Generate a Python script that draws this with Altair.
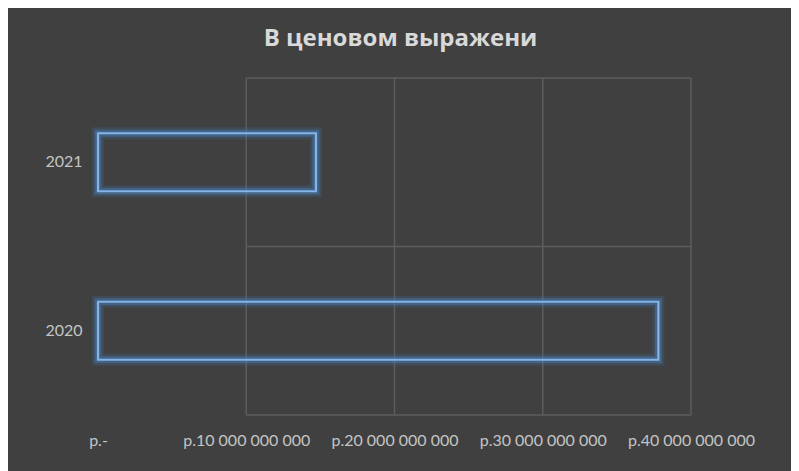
import altair as alt
import pandas as pd

# Data
years = ["2021", "2020"]
values = [14.7e9, 37.8e9]
grid_values = [1e10, 2e10, 3e10, 4e10]
tick_values = [0, 1e10, 2e10, 3e10, 4e10]
tick_labels = ["р.-", "р.10 000 000 000", "р.20 000 000 000", "р.30 000 000 000", "р.40 000 000 000"]
band_edges = [0, 1, 2]

bars_df = pd.DataFrame({"year": years, "value": values})
grid_df = pd.DataFrame({"v": grid_values})
hline_df = pd.DataFrame({"e": band_edges, "x1": [grid_values[0]] * 3, "x2": [grid_values[-1]] * 3})

# build label expression from tick lists
expr = "''"
for v, lab in reversed(list(zip(tick_values, tick_labels))):
    expr = f"datum.value == {int(v)} ? '{lab}' : ({expr})"

BG = "#404040"
GRID = "#5c5c5c"
TXT = "#c4c4c4"

xscale = alt.Scale(domain=[0, 4e10], nice=False, zero=True)

x_axis = alt.Axis(values=tick_values, labelExpr=expr, grid=False, domain=False, ticks=False,
                  labelFont="Lato", labelFontSize=16, labelColor=TXT, labelPadding=17,
                  title=None, labelFlush=False, labelOverlap=False)

vgrid = alt.Chart(grid_df).mark_rule(color=GRID, strokeWidth=1.5).encode(
    x=alt.X("v:Q", scale=xscale, axis=x_axis)
)

hgrid = alt.Chart(hline_df).mark_rule(color=GRID, strokeWidth=1.5).encode(
    x=alt.X("x1:Q", scale=xscale),
    x2="x2:Q",
    y=alt.Y("e:Q", scale=alt.Scale(domain=[0, 2], nice=False), axis=None),
)

ysc = alt.Scale(domain=years, paddingInner=0, paddingOuter=0)
y_axis = alt.Axis(title=None, domain=False, ticks=False, labelFont="Lato", labelFontSize=16,
                  labelColor=TXT, labelPadding=16)

base = alt.Chart(bars_df).encode(
    x=alt.X("value:Q", scale=xscale),
    y=alt.Y("year:N", scale=ysc, sort=years, axis=y_axis),
)

glow1 = base.mark_bar(size=58, fillOpacity=0, stroke="#3f78b8", strokeWidth=12, strokeOpacity=0.2)
glow2 = base.mark_bar(size=58, fillOpacity=0, stroke="#4a86c8", strokeWidth=7, strokeOpacity=0.4)
main = base.mark_bar(size=58, fillOpacity=0, stroke="#82b4ea", strokeWidth=2.2)
bars = alt.layer(glow1, glow2, main)

chart = alt.layer(vgrid, hgrid, bars).resolve_scale(y="independent").properties(
    width=593,
    height=337,
    title=alt.Title("В ценовом выражени", font="Open Sans", fontSize=24, fontWeight="bold",
                    color="#d9d9d9", anchor="middle", offset=26, dx=6),
    background=BG,
    padding={"left": 90, "top": 70, "right": 100, "bottom": 56},
    autosize=alt.AutoSizeParams(type="none"),
).configure_view(stroke=None)

chart.save("out.html", embed_options={"renderer": "svg", "actions": False})
